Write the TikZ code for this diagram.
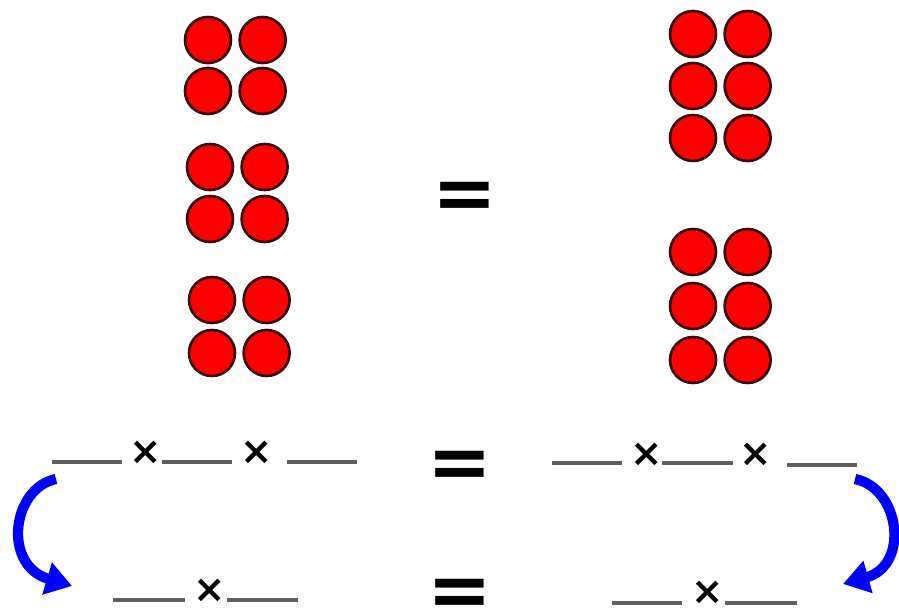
\documentclass[tikz,border=0pt]{standalone}
\usepackage{fontspec}
\newfontfamily\symfont{DejaVu Sans}
\usepackage{tikz}
\usetikzlibrary{positioning,arrows.meta}
\usepackage{xcolor}
\definecolor{dotred}{RGB}{255,0,0}
\definecolor{dotedge}{RGB}{55,12,12}
\definecolor{turnblue}{RGB}{0,0,255}
\definecolor{blankgray}{RGB}{95,95,95}

\begin{document}
\begin{tikzpicture}[x=0.02cm, y=-0.02cm,
  dot/.style={circle, draw=dotedge, fill=dotred, line width=1.5pt, minimum size=0.92cm, inner sep=0pt},
  eq/.style={font=\symfont\bfseries\fontsize{44}{44}\selectfont, inner sep=0pt},
  times/.style={font=\symfont\bfseries\fontsize{22}{22}\selectfont, inner sep=0pt},
  blank/.style={draw=blankgray, line width=2.1pt},
  turn/.style={draw=turnblue, line width=5.8pt, -{Triangle[length=0.52cm, width=0.64cm]}}]
  \useasboundingbox (0,0) rectangle (899,614);

  % left picture: three groups of four
  \foreach \x/\y [count=\i] in {208/40, 208/91, 210/167, 210/219, 212/300, 212/353} {
    \node[dot] (la\i) at (\x,\y) {};
    \node[dot, right=0.12cm of la\i] (lb\i) {};
  }
  % right picture: two groups of six
  \foreach \y [count=\i] in {34,86,138,252,306,360} {
    \node[dot] (ra\i) at (693,\y) {};
    \node[dot, right=0.12cm of ra\i] (rb\i) {};
  }

  \node[eq] (eqtop) at (465,201) {=};
  \node[eq] (eqmid) at (460,470) {=};
  \node[eq] (eqbot) at (460,598) {=};

  % first row of blanks
  \draw[blank] (52,462) -- (122,462);
  \node[times] (tl1) at (146,453) {×};
  \draw[blank] (162,462) -- (232,462);
  \node[times] (tl2) at (257,453) {×};
  \draw[blank] (287,462) -- (357,462);

  \draw[blank] (552,463) -- (622,463);
  \node[times] (tr1) at (647,455) {×};
  \draw[blank] (662,463) -- (733,463);
  \node[times] (tr2) at (756,455) {×};
  \draw[blank] (787,465) -- (857,465);

  % second row of blanks
  \draw[blank] (113,600) -- (185,600);
  \node[times] (bl) at (210,591) {×};
  \draw[blank] (227,600) -- (298,600);

  \draw[blank] (612,603) -- (682,603);
  \node[times] (br) at (708,593) {×};
  \draw[blank] (725,603) -- (797,603);

  % turning arrows
  \coordinate (lstart) at (56,479);
  \coordinate (lend) at (72,586);
  \coordinate (rstart) at (855,479);
  \coordinate (rend) at (843,584);
  \draw[turn] (lstart) .. controls (12,488) and (2,565) .. (lend);
  \draw[turn] (rstart) .. controls (900,488) and (910,565) .. (rend);
\end{tikzpicture}
\end{document}
